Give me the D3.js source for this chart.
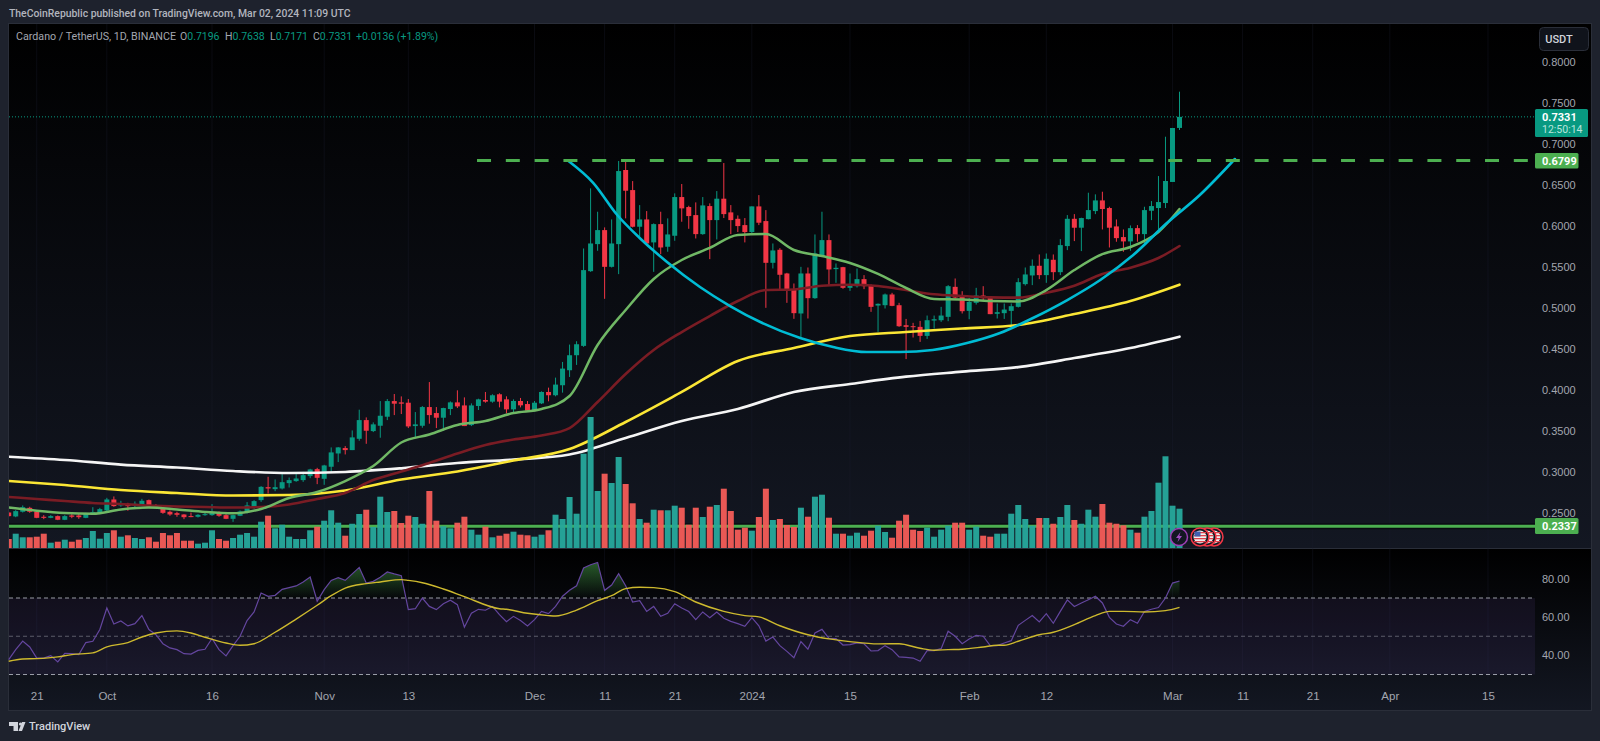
<!DOCTYPE html>
<html>
<head>
<meta charset="utf-8">
<title>Cardano / TetherUS</title>
<script src="https://cdn.jsdelivr.net/npm/d3@7"></script>
<style>
  body { margin: 0; background: #1e222d; }
  svg { display: block; font-family: Roboto, "Noto Sans", sans-serif; }
  .axis text { fill: #a3a6af; font-size: 11px; }
  .axis .domain { display: none; }
</style>
</head>
<body>
<svg id="svgchart" width="1600" height="741"></svg>
<script>
'use strict'

// daily candles, bar 0 is 2023-09-17, last bar is 2024-03-02
const opens = [
  .2506,.2458,.2515,.2563,.2519,.2454,.2441,.2462,.2417,.2470,
  .2470,.2441,.2502,.2490,.2531,.2665,.2592,.2612,.2592,.2604,
  .2657,.2588,.2563,.2515,.2498,.2482,.2462,.2454,.2474,.2474,
  .2510,.2474,.2429,.2466,.2506,.2576,.2657,.2815,.2791,.2799,
  .2864,.2889,.2901,.2950,.3035,.2917,.3064,.3226,.3292,.3267,
  .3405,.3633,.3499,.3564,.3674,.3865,.3849,.3845,.3560,.3564,
  .3792,.3719,.3662,.3768,.3849,.3812,.3572,.3805,.3878,.3858,
  .3948,.3886,.3764,.3866,.3829,.3748,.3837,.3976,.3936,.4058,
  .4241,.4424,.4538,.5449,.5779,.5950,.5502,.5779,.6683,.6438,
  .5991,.6080,.5800,.6023,.5747,.5881,.6353,.6231,.6133,.5901,
  .6243,.6072,.6333,.6166,.6088,.6011,.5926,.6239,.6060,.5551,
  .5710,.5421,.5226,.4933,.5421,.5120,.5625,.5828,.5474,.5498,
  .5246,.5266,.5352,.5279,.5030,.5034,.5165,.5034,.4790,.4778,
  .4770,.4660,.4847,.4851,.4892,.5258,.5144,.4965,.5063,.5152,
  .5128,.4929,.4937,.4965,.5014,.5291,.5397,.5515,.5401,.5588,
  .5437,.5755,.6088,.5979,.6084,.6182,.6312,.6219,.5995,.5865,
  .5812,.5974,.5901,.6186,.6219,.6280,.6537,.7196
]
const highs = [
  .2515,.2535,.2592,.2576,.2523,.2474,.2474,.2470,.2474,.2486,
  .2490,.2502,.2571,.2563,.2685,.2702,.2649,.2624,.2641,.2673,
  .2665,.2608,.2592,.2531,.2515,.2486,.2506,.2486,.2502,.2608,
  .2519,.2486,.2478,.2531,.2633,.2657,.2828,.2942,.2909,.2974,
  .2933,.2974,.3003,.3039,.3051,.3088,.3300,.3304,.3316,.3507,
  .3760,.3666,.3605,.3865,.3890,.3951,.3922,.3890,.3731,.3804,
  .4097,.3792,.3784,.3861,.3996,.3910,.3837,.3894,.3976,.3948,
  .3960,.3923,.3886,.3903,.3866,.3866,.3984,.4029,.4151,.4342,
  .4554,.4595,.5726,.6459,.6174,.5983,.6080,.6793,.6793,.6548,
  .6255,.6182,.6032,.6174,.6093,.6398,.6512,.6247,.6288,.6353,
  .6276,.6426,.6768,.6255,.6129,.6097,.6239,.6377,.6194,.5787,
  .5730,.5429,.5299,.5502,.5494,.5897,.6174,.5897,.5543,.5502,
  .5421,.5482,.5401,.5287,.5055,.5177,.5185,.5063,.4867,.4819,
  .4843,.4908,.4908,.5014,.5279,.5360,.5205,.5124,.5246,.5266,
  .5136,.5055,.5055,.5055,.5364,.5494,.5592,.5653,.5665,.5653,
  .5840,.6133,.6145,.6101,.6406,.6386,.6418,.6235,.6080,.5958,
  .6007,.6011,.6235,.6304,.6609,.7089,.7196,.7638
]
const lows = [
  .2454,.2449,.2506,.2502,.2437,.2425,.2437,.2413,.2413,.2437,
  .2429,.2437,.2494,.2486,.2523,.2576,.2576,.2527,.2571,.2596,
  .2571,.2559,.2490,.2466,.2454,.2425,.2449,.2445,.2466,.2466,
  .2454,.2425,.2392,.2462,.2494,.2551,.2636,.2738,.2766,.2787,
  .2811,.2880,.2880,.2925,.2852,.2844,.3000,.3121,.3214,.3267,
  .3381,.3344,.3487,.3418,.3633,.3694,.3707,.3536,.3410,.3540,
  .3589,.3536,.3503,.3694,.3780,.3560,.3560,.3756,.3845,.3845,
  .3788,.3715,.3723,.3788,.3740,.3740,.3829,.3862,.3923,.3968,
  .4159,.4306,.4526,.5441,.5698,.5112,.5494,.5413,.6093,.5983,
  .5869,.5779,.5441,.5657,.5686,.5820,.6052,.5966,.5848,.5893,
  .5596,.5836,.6097,.5901,.5926,.5800,.5909,.6011,.5002,.5482,
  .5226,.5063,.4868,.4640,.4872,.5112,.5625,.5270,.5307,.5234,
  .5209,.5250,.5230,.4953,.4709,.4994,.5022,.4770,.4377,.4640,
  .4587,.4623,.4749,.4831,.4839,.5116,.4933,.4863,.5042,.5095,
  .4925,.4872,.4867,.4778,.5006,.5274,.5279,.5352,.5307,.5340,
  .5401,.5706,.5816,.5694,.6080,.6145,.5958,.5738,.5808,.5686,
  .5698,.5808,.5771,.6072,.5958,.6219,.6537,.7171
]
const closes = [
  .2462,.2523,.2571,.2515,.2441,.2441,.2462,.2417,.2462,.2454,
  .2449,.2490,.2510,.2547,.2665,.2584,.2612,.2584,.2612,.2649,
  .2576,.2571,.2502,.2482,.2478,.2449,.2454,.2478,.2486,.2506,
  .2466,.2429,.2474,.2519,.2592,.2645,.2819,.2799,.2815,.2876,
  .2901,.2921,.2962,.3031,.2929,.3080,.3239,.3300,.3267,.3422,
  .3633,.3503,.3581,.3686,.3865,.3833,.3833,.3556,.3581,.3792,
  .3694,.3662,.3780,.3849,.3800,.3560,.3812,.3886,.3858,.3936,
  .3858,.3764,.3866,.3813,.3748,.3845,.3976,.3936,.4066,.4261,
  .4424,.4558,.5462,.5787,.5950,.5502,.5787,.6670,.6430,.5991,
  .6080,.5787,.6023,.5738,.5897,.6353,.6215,.6121,.5901,.6251,
  .6072,.6333,.6145,.6072,.5999,.5926,.6239,.6040,.5551,.5702,
  .5405,.5209,.4937,.5421,.5120,.5665,.5828,.5470,.5490,.5246,
  .5279,.5352,.5266,.5014,.5051,.5165,.5026,.4778,.4770,.4770,
  .4660,.4851,.4863,.4908,.5266,.5128,.4961,.5075,.5152,.5120,
  .4925,.4949,.4981,.5022,.5315,.5409,.5515,.5401,.5600,.5437,
  .5767,.6088,.5979,.6097,.6194,.6312,.6207,.5979,.5852,.5812,
  .5974,.5901,.6194,.6243,.6292,.6549,.7195,.7331
]

// volume, arbitrary units (no axis on the picture), and its bar direction (1 up, 0 down)
const volumes = [
  90,143,107,107,113,143,53,63,83,63,
  83,100,170,93,150,177,113,127,100,90,
  107,63,150,127,150,73,73,43,53,177,
  90,73,100,133,150,113,263,323,197,233,
  113,90,90,177,213,273,377,253,123,243,
  340,383,210,513,360,370,250,323,310,243,
  570,273,217,197,253,313,183,133,213,107,
  123,143,163,133,127,113,133,177,333,290,
  510,343,943,1310,570,743,650,910,640,447,
  290,253,383,377,377,423,403,233,403,310,
  413,430,593,370,183,203,173,310,593,280,
  290,230,210,403,313,513,533,303,143,143,
  123,153,123,173,223,160,103,273,333,183,
  170,203,113,183,223,253,253,183,213,123,
  113,143,143,343,430,290,223,300,300,243,
  310,430,280,243,383,313,440,253,243,227,
  183,153,313,370,653,917,423,393
]
const volumeUp = [
  0,1,1,0,0,0,1,0,1,0,
  0,1,1,1,1,0,1,0,1,1,
  0,0,0,0,0,0,0,1,1,1,
  0,0,1,1,1,1,1,0,1,1,
  1,1,1,1,0,1,1,1,0,1,
  1,0,1,1,1,0,0,0,1,1,
  0,0,1,1,0,0,1,1,0,1,
  0,0,1,0,0,1,1,0,1,1,
  1,1,1,1,1,0,1,1,0,0,
  1,0,1,0,1,1,0,0,0,1,
  0,1,0,0,0,0,1,0,0,1,
  0,0,0,1,0,1,1,0,1,0,
  1,1,0,0,1,1,0,0,0,0,
  0,1,1,1,1,0,0,1,1,0,
  0,1,1,1,1,1,1,0,1,0,
  1,1,0,1,1,1,0,0,0,0,
  1,0,1,1,1,1,1,1
]

// moving averages, read every 8 bars (slow ones) and every 4 bars (fast ones)
const slowIdx = [0,8,16,24,32,40,48,56,64,72,80,88,96,104,112,120,128,136,144,152,160,167]
const ma200 = [.3186,.3146,.3091,.3055,.3012,.2988,.3000,.3045,.3110,.3152,.3213,.3415,.3622,.3768,.3976,.4073,.4162,.4223,.4280,.4390,.4512,.4650]
const ma100 = [.2890,.2841,.2780,.2744,.2713,.2719,.2774,.2908,.3006,.3140,.3280,.3610,.3976,.4354,.4512,.4658,.4707,.4750,.4793,.4927,.5085,.5284]
const fastIdx = [0,4,8,12,16,20,24,28,32,36,40,44,48,52,56,60,64,68,72,76,80,84,88,92,96,100,104,108,112,116,120,124,128,132,136,140,144,148,152,156,160,164,167]
const ma50 = [.2695,.2671,.2646,.2622,.2610,.2591,.2579,.2573,.2567,.2573,.2604,.2671,.2744,.2902,.3006,.3110,.3226,.3329,.3396,.3445,.3536,.3854,.4195,.4488,.4707,.4902,.5085,.5219,.5226,.5272,.5284,.5268,.5219,.5167,.5146,.5130,.5126,.5186,.5272,.5415,.5491,.5610,.5756]
const ma20 = [.2567,.2528,.2500,.2491,.2543,.2567,.2543,.2512,.2496,.2549,.2683,.2756,.2890,.3073,.3360,.3457,.3573,.3622,.3719,.3768,.3927,.4549,.4976,.5354,.5585,.5732,.5890,.5902,.5707,.5634,.5549,.5415,.5244,.5110,.5104,.5085,.5079,.5219,.5463,.5658,.5744,.5927,.6207]

// hand drawn cup arc and the two horizontal levels
const cupIdx = [79.8,83.4,86.8,90,93.9,98.6,102.9,107.2,112.9,117.6,122.4,127.1,131.8,136.7,141.4,146.1,151,155.7,160.4,165.2,169.9,174.9]
const cupPrice = [.6796,.6524,.6134,.5854,.5561,.5256,.5024,.4829,.4634,.4524,.4463,.4463,.4488,.4573,.4695,.4878,.5097,.5341,.5646,.6036,.6378,.6817]
const resistance = 0.6799
const resistanceStart = 66.8
const support = 0.2337
const lastPrice = 0.7331

// RSI pane
const rsi = [
  37.8,43.0,47.5,44.4,38.6,38.6,39.9,36.6,41.1,40.9,
  40.4,46.7,47.4,53.5,64.8,56.4,58.0,55.4,56.6,60.8,
  53.5,50.8,46.1,43.9,43.0,40.9,40.7,42.6,43.2,48.8,
  43.0,39.7,45.1,50.0,58.2,62.7,72.6,70.9,71.4,74.5,
  75.4,76.3,78.4,81.0,68.3,74.4,79.2,80.6,79.2,82.6,
  86.0,77.8,78.7,80.8,83.6,82.6,81.7,63.9,64.4,70.0,
  65.6,63.9,67.0,68.8,66.5,54.7,62.0,64.1,63.6,65.6,
  61.3,57.6,60.4,58.2,55.4,58.7,63.0,61.8,65.6,70.9,
  74.0,76.4,85.7,87.4,88.6,74.0,76.8,82.7,76.4,67.9,
  68.6,63.0,65.6,60.4,62.0,67.0,64.8,62.9,58.7,62.7,
  59.7,62.7,59.4,57.8,56.6,55.2,59.7,55.5,47.5,49.6,
  45.1,42.1,38.8,47.2,43.2,51.7,53.6,48.9,48.8,45.4,
  45.6,46.5,46.1,42.3,42.5,45.1,43.0,39.2,39.0,38.6,
  36.9,42.5,42.5,43.5,52.6,50.0,46.1,48.6,50.5,50.0,
  45.1,45.1,46.5,47.7,55.7,58.3,60.8,57.5,61.8,56.8,
  63.0,69.0,65.6,67.4,69.1,70.9,67.4,59.9,56.4,55.2,
  58.7,56.8,63.0,64.1,65.0,70.0,77.8,78.9
]
const rsiMaIdx = [0,2,4,7,9,12,14,17,19,21,24,26,28,31,33,35,38,41,44,46,48,51,53,56,57,59,62,65,70,71,74,77,78,81,84,86,88,90,92,95,98,102,105,107,110,114,117,120,124,127,130,132,134,136,139,141,142,144,147,149,152,155,157,159,162,165,167]
const rsiMa = [36.9,38.1,38.3,39.2,40.4,41.3,44.4,46.7,49.6,51.7,52.8,51.7,49.5,46.5,45.3,46.1,52.1,59.0,66.2,71.2,75.2,77.5,78.4,79.6,79.2,78.0,74.7,70.7,64.4,64.1,62.0,60.8,60.6,63.7,68.6,71.2,74.9,75.6,75.4,73.3,67.9,63.0,60.8,60.1,55.5,50.8,48.6,47.2,46.0,46.1,43.7,42.7,43.0,43.2,44.4,45.3,45.3,47.4,50.8,52.1,56.1,60.8,63.0,63.0,62.7,63.4,65.1]
const rsiBands = [70, 50, 30]

// axis labels
const priceTicks = [0.25,0.30,0.35,0.40,0.45,0.50,0.55,0.60,0.65,0.70,0.75,0.80]
const rsiTicks = [40, 60, 80]
const timeTickIdx = [4,14,29,45,57,75,85,95,106,120,137,148,166,176,186,197,211]
const timeTickLabels = ["21","Oct","16","Nov","13","Dec","11","21","2024","15","Feb","12","Mar","11","21","Apr","15"]
const boldTimeLabels = ["Oct","Nov","Dec","2024","Feb","Mar","Apr"]
const legendValues = [["O","0.7196"],["H","0.7638"],["L","0.7171"],["C","0.7331"]]

// pane geometry
const plot = {left: 9, right: 1535, frameRight: 1591, top: 24, paneBottom: 548, bottom: 710}
const upColor = "#089981"
const downColor = "#f23645"

const x = d3.scaleLinear().domain([0, 167]).range([8.7, 1179.5])
const yPrice = d3.scaleLinear().domain([0.25, 0.8]).range([513, 62])
const yVolume = d3.scaleLinear().domain([0, 1310]).range([plot.paneBottom, 417])
const yRsi = d3.scaleLinear().domain([30, 70]).range([674.5, 598])

const svg = d3.select("#svgchart")
const defs = svg.append("defs")

function paneGradient(id, y1, y2) {
  const g = defs.append("linearGradient").attr("id", id)
    .attr("gradientUnits", "userSpaceOnUse")
    .attr("x1", 0).attr("x2", 0).attr("y1", y1).attr("y2", y2)
  g.append("stop").attr("offset", 0).attr("stop-color", "#000000")
  g.append("stop").attr("offset", 1).attr("stop-color", "#131722")
}
paneGradient("priceBg", plot.top, plot.paneBottom)
paneGradient("rsiBg", plot.paneBottom, plot.bottom)

const obGradient = defs.append("linearGradient").attr("id", "overbought")
  .attr("gradientUnits", "userSpaceOnUse")
  .attr("x1", 0).attr("x2", 0).attr("y1", yRsi(88)).attr("y2", yRsi(70))
obGradient.append("stop").attr("offset", 0).attr("stop-color", "#4caf50").attr("stop-opacity", 0.5)
obGradient.append("stop").attr("offset", 1).attr("stop-color", "#4caf50").attr("stop-opacity", 0)

defs.append("clipPath").attr("id", "pricePane").append("rect")
  .attr("x", plot.left).attr("y", plot.top)
  .attr("width", plot.right - plot.left).attr("height", plot.paneBottom - plot.top)
defs.append("clipPath").attr("id", "aboveSeventy").append("rect")
  .attr("x", plot.left).attr("y", plot.paneBottom)
  .attr("width", plot.right - plot.left).attr("height", yRsi(70) - plot.paneBottom)

// pane backgrounds
svg.append("rect").attr("x", plot.left).attr("y", plot.top)
  .attr("width", plot.frameRight - plot.left).attr("height", plot.paneBottom - plot.top)
  .attr("fill", "url(#priceBg)")
svg.append("rect").attr("x", plot.left).attr("y", plot.paneBottom)
  .attr("width", plot.frameRight - plot.left).attr("height", plot.bottom - plot.paneBottom)
  .attr("fill", "url(#rsiBg)")
svg.append("rect").attr("x", plot.left - 0.5).attr("y", plot.top - 0.5)
  .attr("width", plot.frameRight - plot.left + 1).attr("height", plot.bottom - plot.top + 1)
  .attr("fill", "none").attr("stroke", "#2a2e39")
svg.append("line").attr("x1", plot.left).attr("x2", plot.frameRight)
  .attr("y1", plot.paneBottom + 0.5).attr("y2", plot.paneBottom + 0.5)
  .attr("stroke", "#2a2e39")

// faint vertical grid on the time ticks
svg.append("g").selectAll("line").data(timeTickIdx).enter().append("line")
  .attr("x1", d => x(d)).attr("x2", d => x(d))
  .attr("y1", plot.top).attr("y2", 680)
  .attr("stroke", "#1c2030").attr("stroke-opacity", 0.35)

const chart = svg.append("g").attr("clip-path", "url(#pricePane)")

// support level sits behind everything
chart.append("line").attr("x1", plot.left).attr("x2", plot.right)
  .attr("y1", yPrice(support)).attr("y2", yPrice(support))
  .attr("stroke", "#06070b").attr("stroke-width", 6).attr("stroke-opacity", 0.7)
chart.append("line").attr("x1", plot.left).attr("x2", plot.right)
  .attr("y1", yPrice(support)).attr("y2", yPrice(support))
  .attr("stroke", "#4caf50").attr("stroke-width", 3)

// candles
const candle = chart.append("g").selectAll("g")
  .data(opens.map((o, i) => ({i: i, o: o, h: highs[i], l: lows[i], c: closes[i]})))
  .enter().append("g")
  .attr("fill", d => d.c >= d.o ? upColor : downColor)
candle.append("rect") // wick
  .attr("x", d => x(d.i) - 0.5).attr("width", 1)
  .attr("y", d => yPrice(d.h)).attr("height", d => yPrice(d.l) - yPrice(d.h))
candle.append("rect") // body
  .attr("x", d => x(d.i) - 2.5).attr("width", 5)
  .attr("y", d => yPrice(Math.max(d.o, d.c)))
  .attr("height", d => Math.max(1, Math.abs(yPrice(d.o) - yPrice(d.c))))

// moving averages
const maLine = d3.line().curve(d3.curveMonotoneX)
function addMa(idx, values, color, width) {
  chart.append("path")
    .attr("d", maLine(idx.map((d, i) => [x(d), yPrice(values[i])])))
    .attr("fill", "none").attr("stroke", color).attr("stroke-width", width)
    .attr("stroke-linecap", "round")
}
addMa(slowIdx, ma200, "#f5f5f5", 2.7)
addMa(slowIdx, ma100, "#fbe635", 2.6)
addMa(fastIdx, ma50, "#7a1c24", 2.6)
addMa(fastIdx, ma20, "#70b865", 2.5)
addMa(cupIdx, cupPrice, "#00bcd4", 2.6)

// resistance level and last price
chart.append("line").attr("x1", x(resistanceStart)).attr("x2", plot.right)
  .attr("y1", yPrice(resistance)).attr("y2", yPrice(resistance))
  .attr("stroke", "#4caf50").attr("stroke-width", 3).attr("stroke-dasharray", "14 14.8")
chart.append("line").attr("x1", plot.left).attr("x2", plot.right)
  .attr("y1", yPrice(lastPrice)).attr("y2", yPrice(lastPrice))
  .attr("stroke", upColor).attr("stroke-dasharray", "1 2")

// volume
chart.append("g").selectAll("rect").data(volumes).enter().append("rect")
  .attr("x", (d, i) => x(i) - 3).attr("width", 6)
  .attr("y", d => yVolume(d)).attr("height", d => yVolume(0) - yVolume(d))
  .attr("fill", (d, i) => volumeUp[i] ? "#26a69a" : "#f15b57")
  .attr("fill-opacity", 0.97)

// RSI band, levels and lines
svg.append("rect").attr("x", plot.left).attr("y", yRsi(70))
  .attr("width", plot.right - plot.left).attr("height", yRsi(30) - yRsi(70))
  .attr("fill", "#7e57c2").attr("fill-opacity", 0.1)
svg.append("g").selectAll("line").data(rsiBands).enter().append("line")
  .attr("x1", plot.left).attr("x2", plot.right)
  .attr("y1", d => yRsi(d)).attr("y2", d => yRsi(d))
  .attr("stroke", "#b2b5be").attr("stroke-opacity", d => d == 50 ? 0.45 : 0.85)
  .attr("stroke-dasharray", "4 3")

const rsiPoints = rsi.map((d, i) => [x(i), d])
svg.append("path")
  .attr("clip-path", "url(#aboveSeventy)")
  .attr("d", d3.area().x(d => d[0]).y0(yRsi(70)).y1(d => yRsi(d[1]))(rsiPoints))
  .attr("fill", "url(#overbought)")
svg.append("path")
  .attr("d", d3.line().x(d => d[0]).y(d => yRsi(d[1]))(rsiPoints))
  .attr("fill", "none").attr("stroke", "#64469f").attr("stroke-width", 1.2)
svg.append("path")
  .attr("d", maLine(rsiMaIdx.map((d, i) => [x(d), yRsi(rsiMa[i])])))
  .attr("fill", "none").attr("stroke", "#cdb92e").attr("stroke-width", 1.4)

// axes
svg.append("g").attr("class", "axis")
  .attr("transform", "translate(" + plot.right + ",0)")
  .call(d3.axisRight(yPrice).tickValues(priceTicks).tickFormat(d3.format(".4f")).tickSize(0).tickPadding(7))
svg.append("g").attr("class", "axis")
  .attr("transform", "translate(" + plot.right + ",0)")
  .call(d3.axisRight(yRsi).tickValues(rsiTicks).tickFormat(d3.format(".2f")).tickSize(0).tickPadding(7))
const timeAxis = svg.append("g").attr("class", "axis")
  .attr("transform", "translate(0,689)")
  .call(d3.axisBottom(x).tickValues(timeTickIdx).tickFormat((d, i) => timeTickLabels[i]).tickSize(0).tickPadding(3))
timeAxis.selectAll("text")
  .style("font-size", "11.5px")
  .attr("font-weight", d => boldTimeLabels.includes(timeTickLabels[timeTickIdx.indexOf(d)]) ? 500 : 400)

// price labels on the right
function priceTag(value, y, h, w, fill) {
  svg.append("rect").attr("x", plot.right).attr("y", y)
    .attr("width", w).attr("height", h).attr("rx", 1.5).attr("fill", fill)
  svg.append("text").attr("x", plot.right + 7).attr("y", y + 11.5)
    .attr("font-size", 11).attr("font-weight", 700).attr("fill", "#ffffff").text(value)
}
priceTag("0.7331", 109, 28, 53, upColor)
svg.append("text").attr("x", plot.right + 7).attr("y", 133)
  .attr("font-size", 10.5).attr("fill", "#b9e4dc").text("12:50:14")
priceTag("0.6799", 153, 15.5, 43.5, "#4caf50")
priceTag("0.2337", 518, 16, 43.5, "#4caf50")

// USDT button
svg.append("rect").attr("x", 1539.5).attr("y", 27.5).attr("width", 49).attr("height", 23).attr("rx", 4)
  .attr("fill", "#10131b").attr("stroke", "#2a2e39")
svg.append("text").attr("x", 1559).attr("y", 43).attr("text-anchor", "middle")
  .attr("font-size", 11).attr("font-weight", 500).attr("fill", "#d1d4dc").text("USDT")

// header and legend
svg.append("text").attr("x", 9).attr("y", 17)
  .attr("font-size", 10.4).attr("font-weight", 500).attr("fill", "#b2b5be")
  .text("TheCoinRepublic published on TradingView.com, Mar 02, 2024 11:09 UTC")
svg.append("text").attr("x", 16).attr("y", 40)
  .attr("font-size", 10.7).attr("fill", "#a3a6af").text("Cardano / TetherUS, 1D, BINANCE")
const legendX = [180, 225, 270, 313]
legendValues.forEach((d, i) => {
  const t = svg.append("text").attr("x", legendX[i]).attr("y", 40).attr("font-size", 10.5)
  t.append("tspan").attr("fill", "#a3a6af").text(d[0])
  t.append("tspan").attr("fill", upColor).text(d[1])
})
svg.append("text").attr("x", 356).attr("y", 40)
  .attr("font-size", 10.5).attr("fill", upColor).text("+0.0136 (+1.89%)")

// event icons under the last candles
function flagIcon(cx) {
  const g = svg.append("g").attr("transform", "translate(" + cx + ",537)")
  g.append("circle").attr("r", 9).attr("fill", "#131722").attr("stroke", "#f23645").attr("stroke-width", 1.5)
  g.append("circle").attr("r", 6.5).attr("fill", "#f0f0f0")
  d3.range(-5, 6, 3).forEach(s => {
    g.append("rect").attr("x", -6).attr("y", s).attr("width", 12).attr("height", 1.3).attr("fill", "#e0424d")
  })
  g.append("rect").attr("x", -5.5).attr("y", -5.5).attr("width", 6).attr("height", 5).attr("fill", "#3f5fb0")
}
flagIcon(1214)
flagIcon(1207)
flagIcon(1200)
const bolt = svg.append("g").attr("transform", "translate(1179,537)")
bolt.append("circle").attr("r", 8.5).attr("fill", "#131722").attr("stroke", "#9c3fb5").attr("stroke-width", 1.5)
bolt.append("path").attr("d", "M1.5,-5 L-3,1 L-0.3,1 L-1.5,5 L3,-1 L0.3,-1 Z").attr("fill", "#a04cc0")

// TradingView logo
const logo = svg.append("g").attr("fill", "#d1d4dc")
logo.append("path").attr("d", "M9,722 H18 V731 H13.5 V726 H9 Z M22,722 H25.5 L22,731 H18.5 Z")
logo.append("circle").attr("cx", 20.5).attr("cy", 724).attr("r", 1.6)
logo.append("text").attr("x", 29).attr("y", 730).attr("font-size", 11).attr("font-weight", 500).text("TradingView")
</script>
</body>
</html>
